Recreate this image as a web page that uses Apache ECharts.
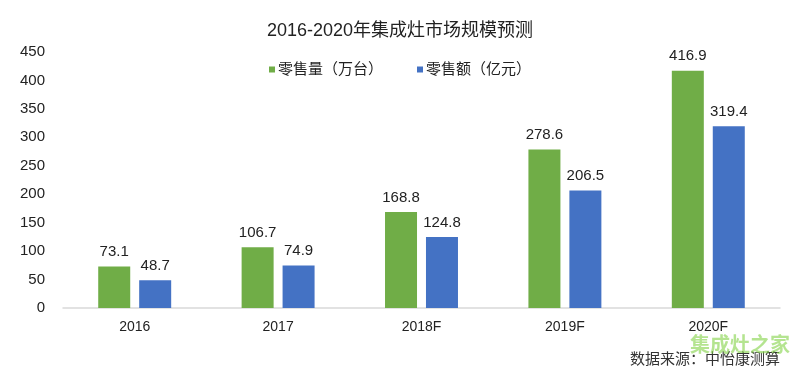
<!DOCTYPE html>
<html>
<head>
<meta charset="utf-8">
<script src="https://cdn.jsdelivr.net/npm/echarts@6/dist/echarts.min.js"></script>
<style>html,body{margin:0;padding:0;background:#fff;}#c{width:800px;height:380px;}</style>
</head>
<body>
<div id="c"></div>
<script>
const titleText = '2016-2020年集成灶市场规模预测';
const categories = ['2016', '2017', '2018F', '2019F', '2020F'];
const seriesNames = ['零售量（万台）', '零售额（亿元）'];
const volume = [73.1, 106.7, 168.8, 278.6, 416.9];
const revenue = [48.7, 74.9, 124.8, 206.5, 319.4];
const sourceText = '数据来源：中怡康测算';
const watermarkText = '集成灶之家';

const font = '"Liberation Sans", Arial, "Noto Sans CJK SC", sans-serif';
const chart = echarts.init(document.getElementById('c'), null, {renderer: 'canvas'});
chart.setOption({
  backgroundColor: '#fff',
  animation: false,
  title: {
    text: titleText, left: 'center', top: 17,
    textStyle: {fontFamily: font, fontSize: 18, fontWeight: 'normal', color: '#222'}
  },
  legend: {
    top: 57, left: 'center', itemGap: 34,
    icon: 'rect', itemWidth: 6, itemHeight: 6,
    textStyle: {fontFamily: font, fontSize: 15, color: '#222', padding: [0, 0, 0, -2]},
    data: seriesNames
  },
  grid: {left: 63, right: 20, top: 52, bottom: 72},
  xAxis: {
    type: 'category', data: categories,
    axisLine: {lineStyle: {color: '#d9d9d9', width: 1.5}},
    axisTick: {show: false},
    axisLabel: {fontFamily: font, fontSize: 14, color: '#222', margin: 12}
  },
  yAxis: {
    type: 'value', min: 0, max: 450, interval: 50,
    axisLine: {show: false}, axisTick: {show: false},
    splitLine: {show: false},
    axisLabel: {fontFamily: font, fontSize: 15, color: '#222', margin: 18}
  },
  series: [
    {
      name: seriesNames[0], type: 'bar', data: volume,
      barWidth: 32, barGap: '28%',
      itemStyle: {color: '#70ad47'},
      label: {show: true, position: 'top', distance: 7, fontFamily: font, fontSize: 15, color: '#222'}
    },
    {
      name: seriesNames[1], type: 'bar', data: revenue,
      barWidth: 32,
      itemStyle: {color: '#4472c4'},
      label: {show: true, position: 'top', distance: 7, fontFamily: font, fontSize: 15, color: '#222'}
    }
  ],
  graphic: [
    {type: 'text', right: 20, top: 352, style: {text: sourceText, font: '15px ' + font, fill: '#333'}},
    {type: 'text', right: 10, top: 334, style: {text: watermarkText, font: 'bold 20px "Noto Sans CJK SC", sans-serif', fill: 'rgba(130,210,70,0.6)'}}
  ]
});
</script>
</body>
</html>
